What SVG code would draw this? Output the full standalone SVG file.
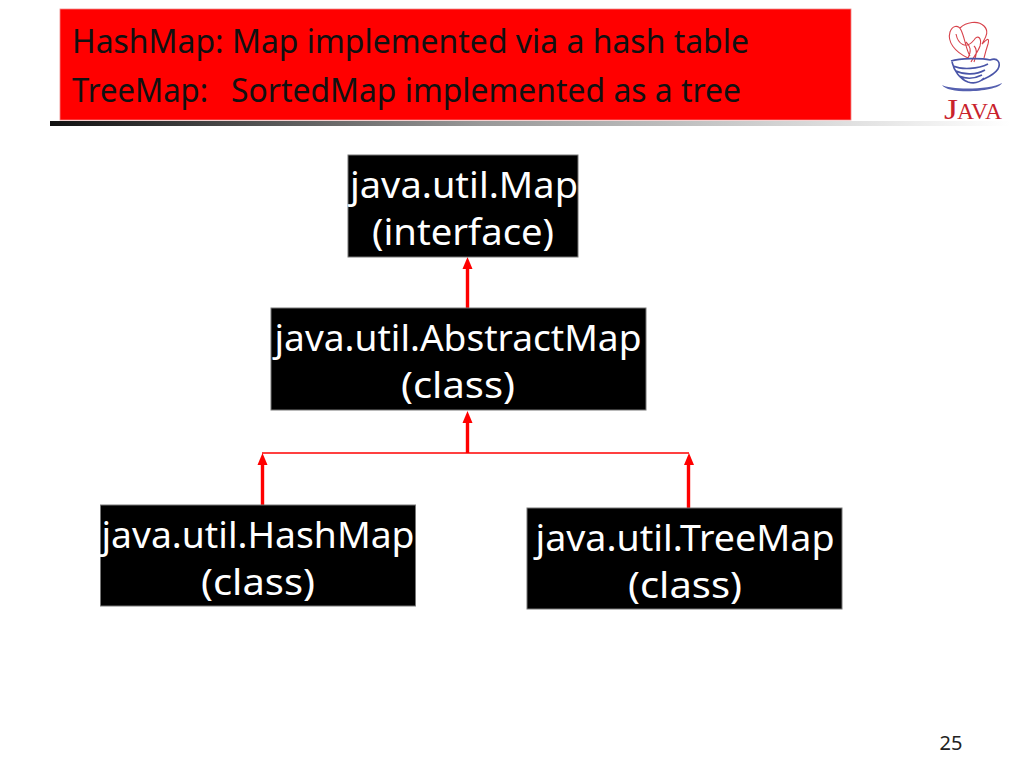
<svg xmlns="http://www.w3.org/2000/svg" width="1024" height="768" viewBox="0 0 1024 768">
<style>
.t{font-family:"Noto Sans","DejaVu Sans",sans-serif}
.h{font-size:32px;fill:#111}
.n{font-size:37px;fill:#fff;text-anchor:middle}
.box{fill:#000;stroke:#777;stroke-width:1}
.c{stroke:#f00;fill:none}
.ar{fill:#f00}
.s{fill:none;stroke:#d8434c;stroke-width:1.100}
.b{fill:none;stroke:#4a55a8;stroke-width:1.600}
.j{font-family:"Liberation Serif",serif;fill:#c9222c}
</style>
<defs><linearGradient id="g" x1="0" x2="1" y1="0" y2="0"><stop offset="0" stop-color="#111"/><stop offset="0.45" stop-color="#999"/><stop offset="1" stop-color="#fff"/></linearGradient></defs>
<rect x="50" y="121" width="960" height="5" fill="url(#g)"/>
<g id="header"><rect x="60" y="9" width="791" height="111" fill="#f00" stroke="#e88" stroke-width="0.800"/>
<text class="t h" x="72" y="53" textLength="677" lengthAdjust="spacingAndGlyphs">HashMap: Map implemented via a hash table</text>
<text class="t h" x="72" y="102" textLength="136" lengthAdjust="spacingAndGlyphs">TreeMap:</text>
<text class="t h" x="231" y="102" textLength="510" lengthAdjust="spacingAndGlyphs">SortedMap implemented as a tree</text></g>
<g id="logo">
<path class="s" d="M968 58C955 52 947 42 950 32C952 26 958 24 961 30C965 38 966 50 970 56M960 28C966 22 978 20 984 26C990 32 985 38 982 44C986 40 990 36 988 44C986 50 985 54 984 58M956 34C958 44 966 50 974 40C978 34 982 38 980 46C978 52 974 56 971 62M966 42C970 46 972 50 968 58M974 46C978 50 976 56 974 62"/>
<path class="b" d="M951 61C960 58 982 58 990 60C998 57 1001 63 998 69C994 75 988 77 982 80M952 62C954 71 960 79 968 82C974 84 980 82 984 78M953 66C962 70 978 69 988 64M956 71C964 75 976 75 985 70M959 76C966 79 974 79 982 75"/>
<path d="M942 85C950 90 990 90 1002 83C998 92 948 95 942 85Z" fill="#5560b0"/>
<text class="j" x="944" y="119" font-size="30" textLength="14" lengthAdjust="spacingAndGlyphs">J</text>
<text class="j" x="957" y="119" font-size="23" textLength="45" lengthAdjust="spacingAndGlyphs">AVA</text>
</g>
<g id="connectors">
<path class="c" stroke-width="3.400" d="M467.500 308V268"/><path class="ar" d="M467.500 257L462.500 269H472.500Z"/>
<path class="c" stroke-width="3.400" d="M467.500 453V422"/><path class="ar" d="M467.500 411L462.500 423H472.500Z"/>
<path class="c" stroke-width="1.500" d="M262 453H689"/>
<path class="c" stroke-width="3.400" d="M262.500 505V464"/><path class="ar" d="M262.500 453L257.500 465H267.500Z"/>
<path class="c" stroke-width="3.400" d="M688.500 508V464"/><path class="ar" d="M689 453L684 465H694Z"/>
</g>
<g id="map"><rect class="box" x="348" y="155" width="230" height="102"/>
<text class="t n" x="464" y="198" textLength="228" lengthAdjust="spacingAndGlyphs">java.util.Map</text>
<text class="t n" x="463" y="245" textLength="182" lengthAdjust="spacingAndGlyphs">(interface)</text></g>
<g id="abstractmap"><rect class="box" x="271" y="308" width="375" height="102"/>
<text class="t n" x="458" y="351" textLength="367" lengthAdjust="spacingAndGlyphs">java.util.AbstractMap</text>
<text class="t n" x="458" y="398" textLength="114" lengthAdjust="spacingAndGlyphs">(class)</text></g>
<g id="hashmap"><rect class="box" x="100.500" y="505" width="315" height="101"/>
<text class="t n" x="258" y="548" textLength="313" lengthAdjust="spacingAndGlyphs">java.util.HashMap</text>
<text class="t n" x="258" y="595" textLength="114" lengthAdjust="spacingAndGlyphs">(class)</text></g>
<g id="treemap"><rect class="box" x="527" y="508" width="315" height="101"/>
<text class="t n" x="685" y="551" textLength="299" lengthAdjust="spacingAndGlyphs">java.util.TreeMap</text>
<text class="t n" x="685" y="598" textLength="114" lengthAdjust="spacingAndGlyphs">(class)</text></g>
<text id="page" class="t" x="951" y="750" font-size="20" fill="#222" text-anchor="middle">25</text>
</svg>
